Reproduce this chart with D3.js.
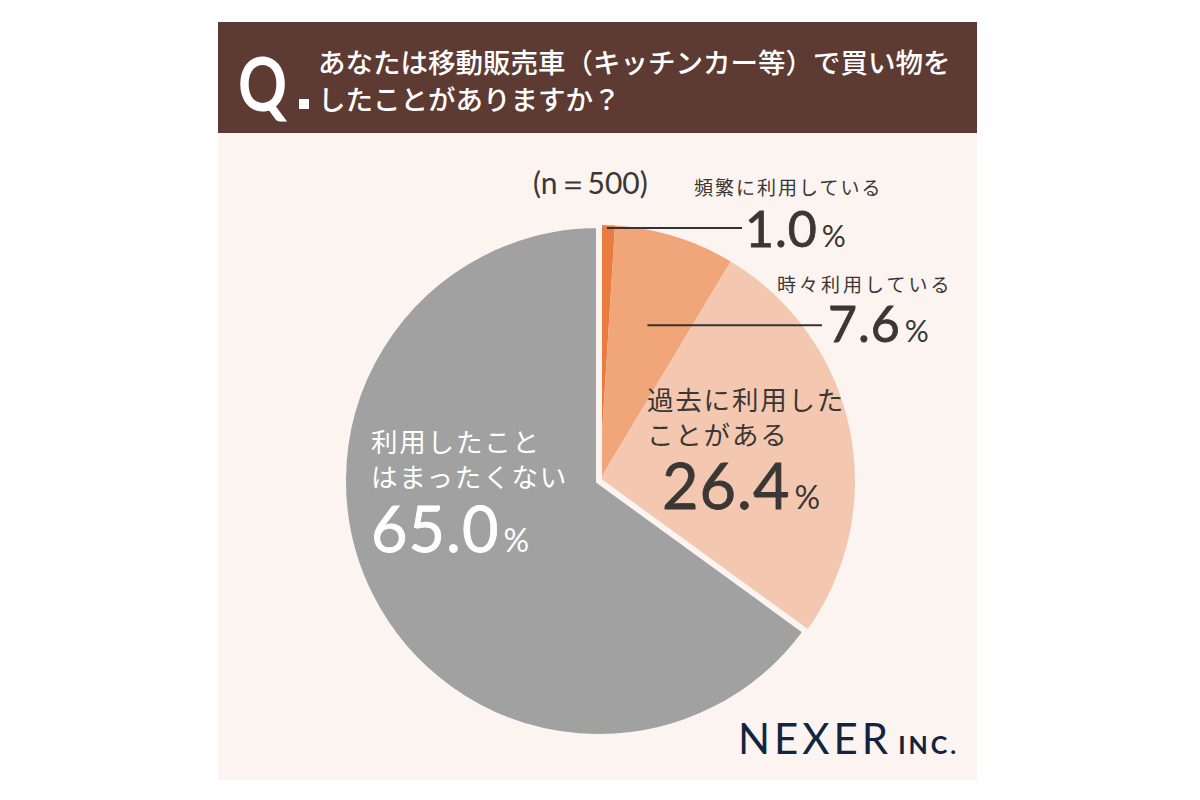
<!DOCTYPE html>
<html>
<head>
<meta charset="utf-8">
<script src="https://cdn.jsdelivr.net/npm/d3@7"></script>
<style>
  body { margin: 0; background: #ffffff; }
  svg { display: block; }
  text { font-family: "Noto Sans CJK JP", "Noto Sans", sans-serif; }
  .num { font-family: "Lato", "Noto Sans", sans-serif; }
</style>
</head>
<body>
<svg id="chart"></svg>
<script>
const categories = ['頻繁に利用している', '時々利用している', '過去に利用したことがある', '利用したことはまったくない'];
const values = [1.0, 7.6, 26.4, 65.0];
const sliceColors = ['#e97c3e', '#f0a679', '#f4c8b0', '#a1a1a1'];
const sampleLabel = '(n＝500)';

const width = 1200, height = 800;
const cx = 599, cy = 481, radius = 256;
const panelBg = '#fbf4f0';

const svg = d3.select('#chart').attr('width', width).attr('height', height);

// panel + header
svg.append('rect').attr('x', 218).attr('y', 22).attr('width', 759).attr('height', 758).attr('fill', panelBg);
svg.append('rect').attr('x', 218).attr('y', 22).attr('width', 759).attr('height', 111).attr('fill', '#5e3b32');

svg.append('text')
  .attr('transform', 'translate(238,111) scale(0.82,1)')
  .attr('fill', '#fff').attr('font-size', 74).attr('font-weight', 700)
  .attr('class', 'num').text('Q');
svg.append('rect').attr('x', 299).attr('y', 99).attr('width', 10).attr('height', 10).attr('fill', '#fff');

svg.append('text').attr('x', 318).attr('y', 73).attr('fill', '#fff').attr('font-size', 27.5).attr('font-weight', 500)
  .text('あなたは移動販売車（キッチンカー等）で買い物を');
svg.append('text').attr('x', 318).attr('y', 110).attr('fill', '#fff').attr('font-size', 27.5).attr('font-weight', 500)
  .text('したことがありますか？');

// pie
const g = svg.append('g').attr('transform', `translate(${cx},${cy})`);
const pie = d3.pie().sort(null).value(d => d);
const arc = d3.arc().innerRadius(0).outerRadius(radius);
const arcs = pie(values);

g.selectAll('path')
  .data(arcs)
  .enter()
  .append('path')
  .attr('d', arc)
  .attr('fill', (d, i) => sliceColors[i])
  .attr('stroke', (d, i) => i === 3 ? panelBg : 'none')
  .style('stroke-width', '6px');

// leader lines for the two small slices
const leaderR = [253, 163];
const leaderEnd = [742, 822];
[0, 1].forEach(i => {
  const a = (arcs[i].startAngle + arcs[i].endAngle) / 2;
  const x0 = cx + leaderR[i] * Math.sin(a);
  const y0 = cy - leaderR[i] * Math.cos(a);
  svg.append('line')
    .attr('x1', x0).attr('y1', y0).attr('x2', leaderEnd[i]).attr('y2', y0)
    .attr('stroke', '#333').attr('stroke-width', 2);
});

const dark = '#3a3735';

svg.append('text').attr('x', 533).attr('y', 194).attr('fill', dark)
  .attr('font-size', 30).attr('class', 'num').text(sampleLabel);

function pct(x, y, v, big, small, color) {
  const t = svg.append('text').attr('x', x).attr('y', y).attr('fill', color).attr('class', 'num');
  t.append('tspan').attr('font-size', big).attr('letter-spacing', 1)
    .attr('stroke', color).attr('stroke-width', 0.8).text(v.toFixed(1));
  t.append('tspan').attr('font-size', small).attr('dx', 4).text('%');
}

function label(x, ys, lines, color) {
  lines.forEach((s, k) => {
    svg.append('text').attr('x', x).attr('y', ys[k]).attr('fill', color)
      .attr('font-size', 26.5).attr('letter-spacing', 1.8).text(s);
  });
}

svg.append('text').attr('x', 694).attr('y', 195).attr('fill', dark).attr('font-size', 19)
  .attr('letter-spacing', 2).text(categories[0]);
pct(745, 247, values[0], 50, 30, dark);

svg.append('text').attr('x', 777).attr('y', 292).attr('fill', dark).attr('font-size', 19)
  .attr('letter-spacing', 3).text(categories[1]);
pct(828, 342, values[1], 50, 30, dark);

label(647, [410, 445], [categories[2].slice(0, 7), categories[2].slice(7)], dark);
pct(662, 509, values[2], 63, 32, dark);

label(371, [452, 487], [categories[3].slice(0, 6), categories[3].slice(6)], '#fff');
pct(371, 552, values[3], 63, 32, '#fff');

// logo
const logo = svg.append('text').attr('x', 738).attr('y', 754).attr('fill', '#132440').attr('class', 'num');
logo.append('tspan').attr('font-size', 42).attr('letter-spacing', 4).text('NEXER');
logo.append('tspan').attr('font-size', 25).attr('font-weight', 700).attr('dx', 6).attr('letter-spacing', 3).text('INC.');
</script>
</body>
</html>
